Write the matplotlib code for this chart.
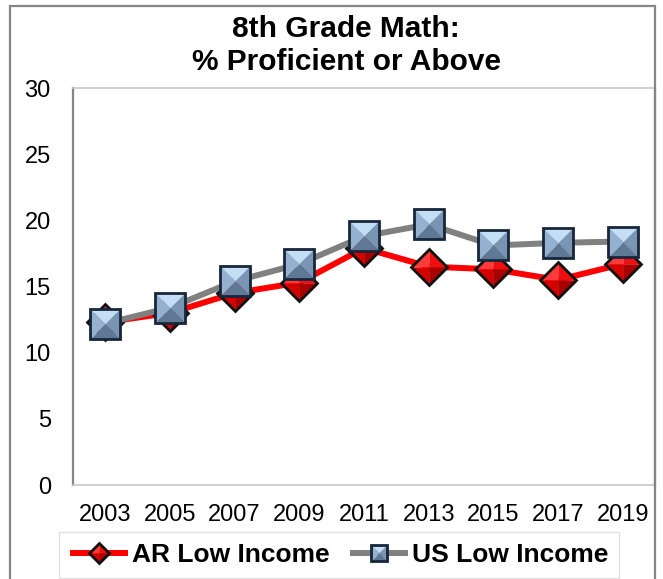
import numpy as np
import matplotlib
matplotlib.use("Agg")
import matplotlib.pyplot as plt
from matplotlib.patches import Rectangle
from matplotlib.legend_handler import HandlerTuple

plt.rcParams['font.family'] = ['Liberation Sans', 'DejaVu Sans']

years = ['2003', '2005', '2007', '2009', '2011', '2013', '2015', '2017', '2019']
ar_low_income = [12.3, 13.0, 14.5, 15.3, 17.9, 16.5, 16.3, 15.5, 16.7]
us_low_income = [12.2, 13.4, 15.4, 16.7, 18.8, 19.7, 18.1, 18.3, 18.4]

# beveled marker faces: each face is a triangle from the centre to one edge
sq_faces = [
    ([(-1, 1), (1, 1), (0, 0)], '#c3def5'),     # top
    ([(-1, -1), (-1, 1), (0, 0)], '#94b1d0'),   # left
    ([(1, -1), (1, 1), (0, 0)], '#7a95b4'),     # right
    ([(-1, -1), (1, -1), (0, 0)], '#5f7896'),   # bottom
]
dm_faces = [
    ([(-1, 0), (0, 1), (0, 0)], '#ff3a3a'),     # upper left
    ([(0, 1), (1, 0), (0, 0)], '#ee1010'),      # upper right
    ([(-1, 0), (0, -1), (0, 0)], '#d40000'),    # lower left
    ([(1, 0), (0, -1), (0, 0)], '#a80000'),     # lower right
]

fig = plt.figure(figsize=(6.63, 5.79), dpi=100)
ax = fig.add_axes([73 / 663, 94 / 579, 582 / 663, 397 / 579])
x = np.arange(len(years))


def draw_series(vals, color, faces, outline, ms, out_ms, edge):
    line, = ax.plot(x, vals, color=color, lw=4.3, solid_capstyle='butt')
    parts = [line]
    for verts, fc in faces:
        p, = ax.plot(x, vals, ls='none', marker=verts, ms=ms,
                     mfc=fc, mec=fc, mew=0.3)
        parts.append(p)
    o, = ax.plot(x, vals, ls='none', marker=outline, ms=out_ms,
                 mfc='none', mec=edge, mew=2.0)
    parts.append(o)
    return tuple(parts)


ar = draw_series(ar_low_income, '#ff0000', dm_faces, 'D', 26.6, 26.6 / np.sqrt(2), '#111111')
us = draw_series(us_low_income, '#808080', sq_faces, 's', 21.6, 21.6, '#17263a')

ax.set_xlim(-0.5, len(years) - 0.5)
ax.set_ylim(0, 30)
ax.set_yticks(range(0, 31, 5))
ax.set_xticks(x)
ax.set_xticklabels(years)
ax.tick_params(length=0, labelsize=17, colors='black')
ax.tick_params(axis='y', pad=16)
ax.tick_params(axis='x', pad=14)

for side in ['top', 'bottom']:
    ax.spines[side].set_color('#c8c8c8')
    ax.spines[side].set_linewidth(1.2)
ax.spines['left'].set_color('#868686')
ax.spines['left'].set_linewidth(1.6)
ax.spines['right'].set_color('#868686')
ax.spines['right'].set_linewidth(1.6)

# two-line title, placed by baseline
fig.text(346 / 663, 1 - 37 / 579, '8th Grade Math:', ha='center', va='baseline',
         fontsize=21.5, fontweight='bold')
fig.text(346 / 663, 1 - 70 / 579, '% Proficient or Above', ha='center', va='baseline',
         fontsize=21.5, fontweight='bold')

# outer chart border
fig.patches.append(Rectangle((10 / 663, -0.05), 645 / 663, 1.05 - 6 / 579,
                             transform=fig.transFigure, fill=False,
                             edgecolor='#868686', lw=1.6))

leg = fig.legend([ar, us], ['AR Low Income', 'US Low Income'],
                 handler_map={tuple: HandlerTuple(ndivide=1)},
                 loc='upper center', bbox_to_anchor=(339 / 663, 1 - 532 / 579),
                 ncol=2, frameon=True, fancybox=False, markerscale=0.56,
                 handlelength=2.2, handletextpad=0.15, columnspacing=0.75,
                 borderpad=0.42, borderaxespad=0,
                 prop={'size': 19, 'weight': 'bold'})
leg.get_frame().set_edgecolor('#d9d9d9')
leg.get_frame().set_linewidth(1.0)

fig.savefig('out.png', dpi=100)
